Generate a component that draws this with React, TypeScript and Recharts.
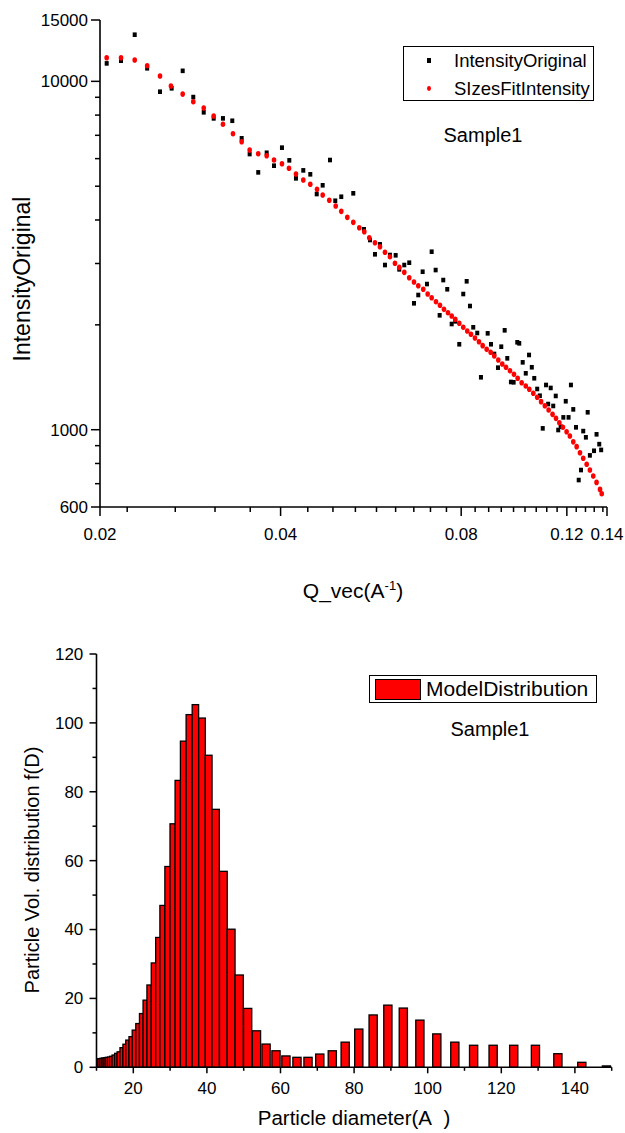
import React from 'react'
import { ScatterChart, Scatter, BarChart, Bar, XAxis, YAxis, Legend, Label } from 'recharts'

const FONT = '"Liberation Sans", Arial, Helvetica, sans-serif'

// ---- top panel: scattered intensity vs Q (log-log) ----
const origQ = [
  0.02052, 0.02168, 0.02285, 0.02397, 0.02518, 0.02633, 0.02747, 0.02861, 0.02978, 0.03094,
  0.03206, 0.03323, 0.03445, 0.03552, 0.03671, 0.03792, 0.039, 0.04021, 0.04136, 0.04243,
  0.04364, 0.04483, 0.04595, 0.04701, 0.04835, 0.04934, 0.05049, 0.05287, 0.05508, 0.05637,
  0.05746, 0.05857, 0.05971, 0.06086, 0.06221, 0.06308, 0.0643, 0.06554, 0.06674, 0.06785,
  0.069, 0.07015, 0.07143, 0.07253, 0.07365, 0.07468, 0.07583, 0.07713, 0.0782, 0.07941,
  0.08064, 0.0817, 0.08274, 0.08379, 0.08509, 0.0863, 0.08856, 0.08969, 0.09083, 0.09213,
  0.0933, 0.09453, 0.09548, 0.09683, 0.09784, 0.09921, 0.09997, 0.1013, 0.1025, 0.1038,
  0.1049, 0.1059, 0.1071, 0.1082, 0.1094, 0.1108, 0.1117, 0.1128, 0.1139, 0.115,
  0.1161, 0.1172, 0.1184, 0.1195, 0.1208, 0.1219, 0.123, 0.1243, 0.1256, 0.1267,
  0.1278, 0.1291, 0.13, 0.1311, 0.1332, 0.1345, 0.1359, 0.1369,
]
const origI = [
  11260, 11460, 13610, 10900, 9337, 9551, 10720, 9013, 8149, 7829,
  7829, 7706, 6862, 6184, 5479, 6237, 5726, 6451, 5933, 5267,
  5552, 5409, 4748, 5030, 5945, 4542, 4664, 4771, 3761, 3504,
  3188, 3405, 2970, 3173, 3167, 2886, 2970, 3016, 2306, 2436,
  2841, 2619, 3243, 2873, 2130, 2689, 2530, 2011, 2047, 1759,
  2452, 2667, 2265, 1968, 1895, 1414, 1891, 1759, 1650, 1507,
  1731, 1929, 1603, 1371, 1368, 1782, 1770, 1561, 1452, 1639,
  1511, 1405, 1309, 1252, 1009, 1344, 1185, 1318, 1170, 1250,
  998, 1020, 1085, 1207, 1085, 1344, 1144, 1016, 717, 766,
  991, 951, 1122, 844, 870, 970, 909, 875,
]
const fitQ = [
  0.02052, 0.02168, 0.02285, 0.02397, 0.02518, 0.02626, 0.02747, 0.02861, 0.02978, 0.03094,
  0.03206, 0.03332, 0.03445, 0.03552, 0.03671, 0.03792, 0.039, 0.04021, 0.04131, 0.04243,
  0.04364, 0.04483, 0.046, 0.04701, 0.04822, 0.04942, 0.05049, 0.05167, 0.05287, 0.0541,
  0.05515, 0.05622, 0.05746, 0.05857, 0.05971, 0.06086, 0.06204, 0.06308, 0.0643, 0.06554,
  0.06674, 0.06785, 0.06916, 0.07034, 0.07143, 0.07262, 0.07374, 0.07488, 0.07604, 0.07713,
  0.0782, 0.07941, 0.08064, 0.08189, 0.08306, 0.08434, 0.08565, 0.08687, 0.08822, 0.08958,
  0.09083, 0.09224, 0.09366, 0.095, 0.09647, 0.09796, 0.09936, 0.1009, 0.1025, 0.1039,
  0.1055, 0.1071, 0.1087, 0.1103, 0.1119, 0.1136, 0.1151, 0.1166, 0.1182, 0.1199,
  0.1214, 0.123, 0.1246, 0.1262, 0.1278, 0.1295, 0.1311, 0.1328, 0.1345, 0.1363, 0.1372,
]
const fitI = [
  11690, 11690, 11510, 11090, 10360, 9696, 9193, 8741, 8383, 7950,
  7530, 7075, 6709, 6348, 6197, 6116, 5945, 5800, 5628, 5420,
  5209, 5063, 4898, 4717, 4555, 4386, 4235, 4070, 3938, 3800,
  3701, 3557, 3442, 3352, 3231, 3138, 3004, 2925, 2830, 2731,
  2654, 2590, 2530, 2452, 2393, 2330, 2276, 2216, 2167, 2120,
  2075, 2021, 1968, 1921, 1879, 1834, 1789, 1743, 1701, 1668,
  1628, 1585, 1544, 1511, 1477, 1442, 1405, 1364, 1335, 1306,
  1272, 1239, 1204, 1172, 1139, 1107, 1078, 1047, 1016, 987,
  959, 923, 894, 859, 828, 796, 766, 736, 706, 674, 655,
]

const qMajorTicks = [0.02, 0.04, 0.08, 0.12, 0.14]
const qMinorTicks = [
  0.0222, 0.0267, 0.0311, 0.0356, 0.0444, 0.0489, 0.0533, 0.0578, 0.0622, 0.0667, 0.0711, 0.0756,
  0.0844, 0.0889, 0.0933, 0.0978, 0.1022, 0.1067, 0.1111, 0.1156, 0.1244, 0.1289, 0.1333, 0.1378,
]
const iMajorTicks = [600, 1000, 10000, 15000]
const iMinorTicks = [700, 800, 900, 2000, 3000, 4000, 5000, 6000, 7000, 8000, 9000]
// right-hand frame of the top panel carries 14 evenly spaced ticks
const frameTicks = [0, 1, 2, 3, 4, 5, 6, 7, 8, 9, 10, 11, 12, 13, 14]

// ---- bottom panel: volume size distribution ----
const diameters = [
  10.1, 10.6, 11.1, 11.6, 12.1, 12.7, 13.3, 13.9, 14.6, 15.3, 16.0, 16.8, 17.6, 18.4, 19.3,
  20.2, 21.2, 22.2, 23.2, 24.3, 25.5, 26.7, 27.9, 29.3, 30.7, 32.1, 33.6, 35.2, 36.9, 38.7,
  40.5, 42.4, 44.5, 46.6, 48.8, 51.1, 53.5, 56.1, 58.8, 61.5, 64.5, 67.5, 70.7, 74.1, 77.6,
  81.3, 85.2, 89.2, 93.4, 97.9, 102.5, 107.4, 112.5, 117.8, 123.4, 129.3, 135.4, 141.9, 148.6,
]
const volDist = [
  2.4, 2.5, 2.6, 2.7, 2.8, 2.9, 3.0, 3.2, 3.56, 4.05, 4.5, 5.7, 6.7, 7.9, 8.9,
  10.8, 12.7, 15.6, 19.5, 23.9, 30.3, 37.7, 47.0, 58.3, 70.7, 83.3, 94.7, 102.4, 105.3, 101.4,
  90.6, 74.9, 56.9, 40.1, 26.8, 17.1, 10.6, 6.75, 4.8, 3.3, 2.9, 2.9, 3.85, 4.8, 7.3,
  11.1, 15.2, 18.05, 17.2, 13.7, 9.7, 7.3, 6.4, 6.4, 6.4, 6.4, 3.95, 1.45, 0.4,
]
const dMajorTicks = [20, 40, 60, 80, 100, 120, 140]
const dMinorTicks = [10, 30, 50, 70, 90, 110, 130, 150]
const fMajorTicks = [0, 20, 40, 60, 80, 100, 120]
const fMinorTicks = [10, 30, 50, 70, 90, 110]

const fitData = fitQ.map((q, k) => ({ q, i: fitI[k] }))
const origData = origQ.map((q, k) => ({ q, i: origI[k] }))
const distData = diameters.map((d, k) => ({ d, f: volDist[k] }))

// layout of the bottom plot, used to size the histogram columns
const BOT_PLOT_W = 515.2
const D_MIN = 10
const D_MAX = 150
const PX_PER_D = BOT_PLOT_W / (D_MAX - D_MIN)
const MAX_BAR_PX = 8.2

const AXIS_W = 1.6

const near = (arr: number[], v: number) => arr.some((m) => Math.abs(m - v) <= Math.abs(m) * 1e-6 + 1e-9)

function AxisTick(props: any) {
  const { x, y, payload, side, major, labels, majorLen, minorLen, gap, fontSize } = props
  const v = payload.value
  const len = near(major, v) ? majorLen : minorLen
  const showLabel = labels ? near(labels, v) : false
  let line: React.ReactNode
  let text: React.ReactNode = null
  if (side === 'bottom') {
    line = <line x1={x} y1={y} x2={x} y2={y + len} />
    if (showLabel)
      text = (
        <text x={x} y={y + gap} textAnchor="middle">
          {String(v)}
        </text>
      )
  } else if (side === 'left') {
    line = <line x1={x - len} y1={y} x2={x} y2={y} />
    if (showLabel)
      text = (
        <text x={x - gap} y={y + fontSize * 0.35} textAnchor="end">
          {String(v)}
        </text>
      )
  } else if (side === 'top') {
    line = <line x1={x} y1={y} x2={x} y2={y + len} />
  } else {
    line = <line x1={x - len} y1={y} x2={x} y2={y} />
  }
  return (
    <g>
      <g stroke="#000" strokeWidth={1.5}>{line}</g>
      {text && (
        <g fill="#000" fontFamily={FONT} fontSize={fontSize}>
          {text}
        </g>
      )}
    </g>
  )
}

const tickOf = (cfg: any) => (p: any) => <AxisTick {...p} {...cfg} />

function OrigMarker(p: any) {
  if (p.cx == null || p.cy == null) return null
  return <rect x={p.cx - 2} y={p.cy - 2.3} width={4} height={4.6} fill="#000" />
}

function FitMarker(p: any) {
  if (p.cx == null || p.cy == null) return null
  return <ellipse cx={p.cx} cy={p.cy} rx={2.3} ry={2.8} fill="#ff0000" />
}

function HistBar(props: any) {
  const { x, y, width, height, payload } = props
  if (x == null || height == null) return null
  const k = diameters.indexOf(payload.d)
  const lo = k > 0 ? payload.d - diameters[k - 1] : diameters[k + 1] - payload.d
  const hi = k < diameters.length - 1 ? diameters[k + 1] - payload.d : lo
  const w = Math.min(((lo + hi) / 2) * PX_PER_D, MAX_BAR_PX)
  const cx = x + width / 2
  return (
    <rect x={cx - w / 2} y={y} width={w} height={Math.max(height, 0)} fill="#ff0000" stroke="#000" strokeWidth={1.3} />
  )
}

function TopLegend() {
  return (
    <div
      style={{
        width: 191,
        height: 55,
        border: '1.5px solid #000',
        boxSizing: 'border-box',
        background: '#fff',
        position: 'relative',
        fontFamily: FONT,
        fontSize: 18.5,
        lineHeight: '21px',
        color: '#000',
      }}
    >
      <div style={{ position: 'absolute', left: 23, top: 11, width: 4, height: 5, background: '#000' }} />
      <span style={{ position: 'absolute', left: 50, top: 3, whiteSpace: 'nowrap' }}>IntensityOriginal</span>
      <div
        style={{ position: 'absolute', left: 23, top: 39, width: 4.4, height: 5.4, borderRadius: '50%', background: '#ff0000' }}
      />
      <span style={{ position: 'absolute', left: 50, top: 31, whiteSpace: 'nowrap' }}>SIzesFitIntensity</span>
    </div>
  )
}

function BottomLegend() {
  return (
    <div
      style={{
        width: 228,
        height: 28,
        border: '1.5px solid #000',
        boxSizing: 'border-box',
        background: '#fff',
        position: 'relative',
        fontFamily: FONT,
        fontSize: 21,
        lineHeight: '24px',
        color: '#000',
      }}
    >
      <div
        style={{
          position: 'absolute',
          left: 5,
          top: 3,
          width: 46,
          height: 21,
          boxSizing: 'border-box',
          border: '1.5px solid #000',
          background: '#ff0000',
        }}
      />
      <span style={{ position: 'absolute', left: 56, top: 1, whiteSpace: 'nowrap' }}>ModelDistribution</span>
    </div>
  )
}

const sampleStyle: React.CSSProperties = {
  position: 'absolute',
  fontFamily: FONT,
  fontSize: 20,
  lineHeight: '24px',
  color: '#000',
  transform: 'translate(-50%, -50%)',
  whiteSpace: 'nowrap',
}

export default function App() {
  return (
    <div style={{ position: 'absolute', left: 0, top: 0, width: 625, height: 1133, background: '#fff' }}>
      <div style={{ position: 'absolute', left: 0, top: 0 }}>
        <ScatterChart width={625} height={610} margin={{ top: 20, right: 18, bottom: 0, left: 0 }}>
          <XAxis
            xAxisId="q"
            dataKey="q"
            type="number"
            scale="log"
            domain={[0.02, 0.14]}
            allowDataOverflow
            ticks={[...qMajorTicks, ...qMinorTicks]}
            interval={0}
            height={103}
            tickSize={0}
            tickMargin={0}
            tickLine={false}
            axisLine={{ stroke: '#000', strokeWidth: AXIS_W }}
            tick={tickOf({ side: 'bottom', major: qMajorTicks, labels: qMajorTicks, majorLen: 9, minorLen: 5, gap: 32.5, fontSize: 17 })}
          >
            <Label
              content={() => (
                <text x={353} y={598} textAnchor="middle" fontFamily={FONT} fontSize={21} fill="#000">
                  <tspan>Q_vec(A</tspan>
                  <tspan dy={-8} fontSize={13}>-1</tspan>
                  <tspan dy={8}>)</tspan>
                </text>
              )}
            />
          </XAxis>
          <XAxis
            xAxisId="qTop"
            orientation="top"
            type="number"
            scale="log"
            domain={[0.02, 0.14]}
            allowDataOverflow
            ticks={[...qMajorTicks, ...qMinorTicks]}
            interval={0}
            height={0}
            tickSize={0}
            tickMargin={0}
            tickLine={false}
            axisLine={{ stroke: '#000', strokeWidth: AXIS_W }}
            tick={tickOf({ side: 'top', major: qMajorTicks, majorLen: 9, minorLen: 6 })}
          />
          <YAxis
            yAxisId="i"
            dataKey="i"
            type="number"
            scale="log"
            domain={[600, 15000]}
            allowDataOverflow
            ticks={[...iMajorTicks, ...iMinorTicks]}
            interval={0}
            width={100}
            tickSize={0}
            tickMargin={0}
            tickLine={false}
            axisLine={{ stroke: '#000', strokeWidth: AXIS_W }}
            tick={tickOf({ side: 'left', major: iMajorTicks, labels: iMajorTicks, majorLen: 9, minorLen: 5, gap: 12, fontSize: 17 })}
          >
            <Label
              content={() => (
                <text
                  x={29.5}
                  y={279}
                  transform="rotate(-90 29.5 279)"
                  textAnchor="middle"
                  fontFamily={FONT}
                  fontSize={23}
                  fill="#000"
                >
                  IntensityOriginal
                </text>
              )}
            />
          </YAxis>
          <YAxis
            yAxisId="frame"
            orientation="right"
            type="number"
            domain={[0, 14]}
            allowDataOverflow
            ticks={frameTicks}
            interval={0}
            width={0}
            tickSize={0}
            tickMargin={0}
            tickLine={false}
            axisLine={{ stroke: '#000', strokeWidth: AXIS_W }}
            tick={tickOf({ side: 'right', major: frameTicks, majorLen: 9, minorLen: 9 })}
          />
          <Legend
            layout="vertical"
            align="center"
            verticalAlign="middle"
            wrapperStyle={{ left: 403, top: 46, width: 191 }}
            content={() => <TopLegend />}
          />
          <Scatter
            name="IntensityOriginal"
            data={origData}
            xAxisId="q"
            yAxisId="i"
            shape={(p: any) => <OrigMarker {...p} />}
            isAnimationActive={false}
          />
          <Scatter
            name="SIzesFitIntensity"
            data={fitData}
            xAxisId="q"
            yAxisId="i"
            shape={(p: any) => <FitMarker {...p} />}
            isAnimationActive={false}
          />
        </ScatterChart>
        <div style={{ ...sampleStyle, left: 483, top: 135 }}>Sample1</div>
      </div>

      <div style={{ position: 'absolute', left: 0, top: 620 }}>
        <BarChart width={625} height={513} data={distData} margin={{ top: 34, right: 13.3, bottom: 0, left: 0 }} barSize={4}>
          <XAxis
            xAxisId="d"
            dataKey="d"
            type="number"
            domain={[D_MIN, D_MAX]}
            allowDataOverflow
            ticks={[...dMajorTicks, ...dMinorTicks]}
            interval={0}
            height={65.7}
            tickSize={0}
            tickMargin={0}
            tickLine={false}
            axisLine={{ stroke: '#000', strokeWidth: AXIS_W }}
            tick={tickOf({ side: 'bottom', major: dMajorTicks, labels: dMajorTicks, majorLen: 6, minorLen: 3.5, gap: 26.2, fontSize: 17 })}
          >
            <Label
              content={() => (
                <text x={354} y={505} textAnchor="middle" fontFamily={FONT} fontSize={20.5} fill="#000" style={{ whiteSpace: 'pre' }}>
                  {'Particle diameter(A\u00a0\u00a0)'}
                </text>
              )}
            />
          </XAxis>
          <XAxis
            xAxisId="dTop"
            orientation="top"
            type="number"
            domain={[D_MIN, D_MAX]}
            allowDataOverflow
            ticks={[...dMajorTicks, ...dMinorTicks]}
            interval={0}
            height={0}
            tickSize={0}
            tickMargin={0}
            tickLine={false}
            axisLine={{ stroke: '#000', strokeWidth: AXIS_W }}
            tick={tickOf({ side: 'top', major: dMajorTicks, majorLen: 6, minorLen: 3.5 })}
          />
          <YAxis
            yAxisId="f"
            type="number"
            domain={[0, 120]}
            allowDataOverflow
            ticks={[...fMajorTicks, ...fMinorTicks]}
            interval={0}
            width={96.5}
            tickSize={0}
            tickMargin={0}
            tickLine={false}
            axisLine={{ stroke: '#000', strokeWidth: AXIS_W }}
            tick={tickOf({ side: 'left', major: fMajorTicks, labels: fMajorTicks, majorLen: 7, minorLen: 4, gap: 13.2, fontSize: 17 })}
          >
            <Label
              content={() => (
                <text
                  x={39.3}
                  y={250}
                  transform="rotate(-90 39.3 250)"
                  textAnchor="middle"
                  fontFamily={FONT}
                  fontSize={20}
                  fill="#000"
                >
                  Particle Vol. distribution f(D)
                </text>
              )}
            />
          </YAxis>
          <YAxis
            yAxisId="fRight"
            orientation="right"
            type="number"
            domain={[0, 120]}
            allowDataOverflow
            ticks={[...fMajorTicks, ...fMinorTicks]}
            interval={0}
            width={0}
            tickSize={0}
            tickMargin={0}
            tickLine={false}
            axisLine={{ stroke: '#000', strokeWidth: AXIS_W }}
            tick={tickOf({ side: 'right', major: fMajorTicks, majorLen: 7, minorLen: 7 })}
          />
          <Legend
            layout="vertical"
            align="center"
            verticalAlign="middle"
            wrapperStyle={{ left: 369, top: 55, width: 228 }}
            content={() => <BottomLegend />}
          />
          <Bar
            name="ModelDistribution"
            dataKey="f"
            xAxisId="d"
            yAxisId="f"
            shape={(p: any) => <HistBar {...p} />}
            isAnimationActive={false}
          />
        </BarChart>
        <div style={{ ...sampleStyle, left: 490, top: 109 }}>Sample1</div>
      </div>
    </div>
  )
}
